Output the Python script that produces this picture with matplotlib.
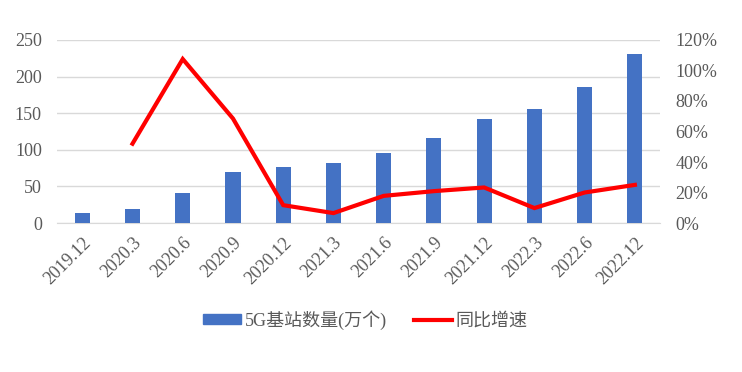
import matplotlib
matplotlib.use("Agg")
import matplotlib.pyplot as plt
from matplotlib.ticker import FuncFormatter
from matplotlib.patches import Patch
from matplotlib.lines import Line2D

plt.rcParams['font.family'] = ['Liberation Serif', 'Noto Sans CJK SC']

periods = ["2019.12", "2020.3", "2020.6", "2020.9", "2020.12", "2021.3",
           "2021.6", "2021.9", "2021.12", "2022.3", "2022.6", "2022.12"]
stations = [13, 19.8, 41, 69, 77.1, 81.9, 96.1, 115.9, 142.5, 155.9, 185.4, 231.2]
growth = [None, 52, 107.5, 68.5, 11.7, 6.5, 17.8, 20.9, 23.3, 9.8, 20.0, 25.0]

txt = "#595959"
fig = plt.figure(figsize=(7.42, 3.72), dpi=100)
ax = fig.add_axes([0.077, 0.4005, 0.8125, 0.492])
ax2 = ax.twinx()

x = list(range(len(periods)))
ax.bar(x, stations, width=0.3, color="#4472C4", zorder=3)
gx = [i for i, g in zip(x, growth) if g is not None]
gy = [g for g in growth if g is not None]
ax2.plot(gx, gy, color="#FF0000", lw=3.0, solid_joinstyle="miter", zorder=4)

ax.set_xlim(-0.5, len(periods) - 0.5)
ax.set_ylim(0, 250)
ax.set_yticks(range(0, 251, 50))
ax2.set_ylim(0, 120)
ax2.set_yticks(range(0, 121, 20))
ax2.yaxis.set_major_formatter(FuncFormatter(lambda v, p: f"{v:.0f}%"))

ax.grid(axis="y", color="#D9D9D9", lw=1, zorder=0)
for a in (ax, ax2):
    for s in a.spines.values():
        s.set_visible(False)
    a.tick_params(length=0, colors=txt, labelsize=13)
ax.spines["bottom"].set_visible(True)
ax.spines["bottom"].set_color("#D9D9D9")
ax.tick_params(axis="y", pad=11)
ax2.tick_params(axis="y", pad=11)

ax.set_xticks(x)
ax.set_xticklabels(periods, rotation=45, ha="right", rotation_mode="anchor")
ax.tick_params(axis="x", pad=8)

ax.set_zorder(ax2.get_zorder() - 1)
ax.patch.set_visible(False)

handles = [Patch(color="#4472C4"), Line2D([0], [0], color="#FF0000", lw=3.0)]
fig.legend(handles, ["5G基站数量(万个)", "同比增速"], loc="center",
           bbox_to_anchor=(0.492, 0.14), ncol=2, frameon=False,
           fontsize=13, labelcolor=txt, handlelength=2.1, handleheight=0.45,
           columnspacing=1.5, handletextpad=0.2)

fig.savefig("out.png", dpi=100)
